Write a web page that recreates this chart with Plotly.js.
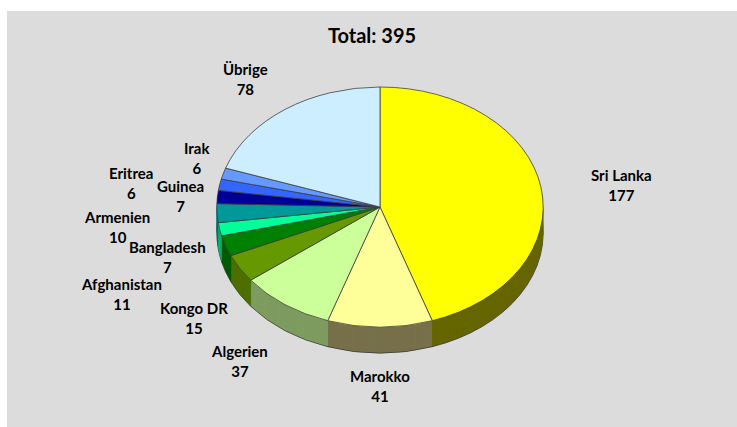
<!DOCTYPE html>
<html><head><meta charset="utf-8">
<script src="https://cdn.plot.ly/plotly-3.0.1.min.js"></script>
<style>
html,body{margin:0;padding:0;background:#ffffff;}
#chart{position:absolute;left:7px;top:11px;width:730px;height:416px;}
</style></head>
<body><div id="chart"></div>
<script>
// ---- data ----
const labels = ['Sri Lanka','Marokko','Algerien','Kongo DR','Afghanistan','Bangladesh','Armenien','Guinea','Eritrea','Irak','Übrige'];
const values = [177, 41, 37, 15, 11, 7, 10, 7, 6, 6, 78];
const topColors  = ['#ffff00','#ffff99','#ccff99','#669900','#008000','#00ff99','#009999','#000099','#3366ff','#6699ff','#cceeff'];
const sideColors = ['#666600','#77704a','#7e9c60','#4d7000','#005c00','#00b36b','#006e6e','#00006e','#254cb8','#4a70b8','#94acb8'];
const titleText = 'Total: 395';

// ---- geometry / style ----
const W = 730, H = 416;
const CX = 373, CY = 196, R = 120, DEPTH = 26, SX = 1.36;
const F_BIG = 1.12, GAP_SIDE = 30, F_IN = 1.07, F_OUT = 1.40, SMALL = 0.05;
const LINE_H = 19, FONT = 'Lato, Open Sans, sans-serif';

function dom(off) {
  return {x: [(CX - R) / W, (CX + R) / W], y: [(H - CY - off - R) / H, (H - CY - off + R) / H]};
}
const traces = [];
for (let d = DEPTH; d >= 1; d--) {
  traces.push({
    type: 'pie', labels: labels, values: values, sort: false, direction: 'clockwise', rotation: 0,
    domain: dom(d), textinfo: 'none', hoverinfo: 'skip', showlegend: false,
    marker: {colors: sideColors, line: {color: d === DEPTH ? '#3a3a3a' : 'rgba(0,0,0,0)', width: d === DEPTH ? 0.8 : 0}}
  });
}
traces.push({
  type: 'pie', labels: labels, values: values, sort: false, direction: 'clockwise', rotation: 0,
  domain: dom(0), textinfo: 'none', hoverinfo: 'skip', showlegend: false,
  marker: {colors: topColors, line: {color: '#404040', width: 0.8}}
});

// labels placed around the (elliptical) pie at each slice's mid-angle
const total = values.reduce((s, v) => s + v, 0);
const annotations = [];
let cum = 0, toggle = false;
const lastY = {};
values.forEach(function (v, i) {
  const mid = (cum + v / 2) / total * 2 * Math.PI;
  cum += v;
  const sn = Math.sin(mid), dn = -Math.cos(mid);
  const small = v / total < SMALL;
  let fx = F_BIG, fy = F_BIG, ring = 'big', extra = 0;
  if (small) {
    ring = toggle ? 'out' : 'in';
    fx = toggle ? F_OUT : F_IN; fy = F_IN; toggle = !toggle;
  } else {
    toggle = false; extra = GAP_SIDE * Math.pow(sn, 4);
  }
  const xa = sn > 0.3 ? 'left' : (sn < -0.3 ? 'right' : 'center');
  const px = CX + fx * R * SX * sn + (xa === 'left' ? extra : (xa === 'right' ? -extra : 0));
  let py = CY + fy * R * dn + DEPTH * Math.max(0, Math.min(1, dn / 0.1));
  if (dn > 0.3) py += LINE_H; else if (dn < -0.3) py -= LINE_H;
  if (small) {
    const key = ring + (sn < 0 ? 'L' : 'R');
    const dir = sn < 0 ? -1 : 1;
    if (lastY[key] !== undefined && Math.abs(py - lastY[key]) < 2 * LINE_H) py = lastY[key] + dir * 2 * LINE_H;
    lastY[key] = py;
  }
  annotations.push({
    text: labels[i] + '<br>' + values[i], showarrow: false, align: 'center',
    xref: 'paper', yref: 'paper', x: px / W, y: 1 - py / H,
    xanchor: xa, yanchor: 'middle',
    font: {family: FONT, size: 15, color: '#000000', weight: 700}
  });
});

const layout = {
  width: W, height: H, margin: {l: 0, r: 0, t: 0, b: 0},
  paper_bgcolor: '#dcdcdc', showlegend: false, annotations: annotations,
  title: {text: titleText, x: 0.5, xanchor: 'center', y: 1 - 25 / H, yanchor: 'middle',
          font: {family: FONT, size: 20, color: '#000000', weight: 700}}
};

Plotly.newPlot('chart', traces, layout, {displayModeBar: false, staticPlot: true}).then(function (gd) {
  const groups = gd.querySelectorAll('.pielayer .trace');
  const topG = groups[groups.length - 1];
  let x0 = Infinity, x1 = -Infinity;
  topG.querySelectorAll('path.surface').forEach(function (p) {
    const b = p.getBBox();
    x0 = Math.min(x0, b.x); x1 = Math.max(x1, b.x + b.width);
  });
  const lcx = (x0 + x1) / 2;
  gd.querySelectorAll('.pielayer path.surface').forEach(function (p) {
    p.setAttribute('transform', 'matrix(' + SX + ',0,0,1,' + (lcx * (1 - SX)) + ',0)');
    p.style.vectorEffect = 'non-scaling-stroke';
  });
});
</script>
</body></html>
